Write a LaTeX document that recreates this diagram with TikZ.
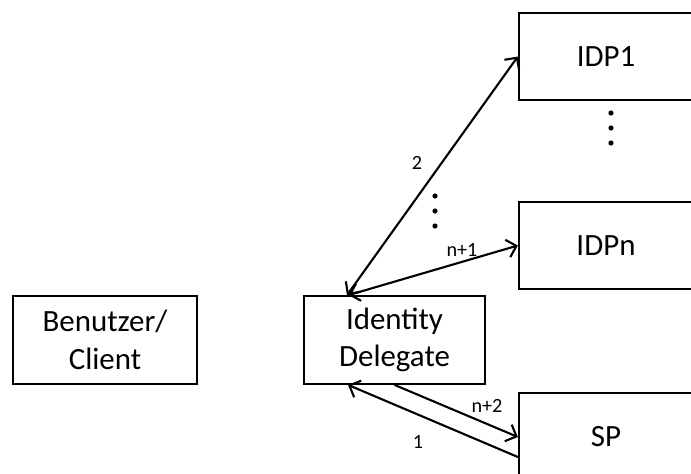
\documentclass[tikz,border=0pt]{standalone}
\usepackage{fontspec}
\setmainfont{Carlito}
\usetikzlibrary{arrows.meta,positioning}

\begin{document}
\begin{tikzpicture}[
    x=0.02cm,y=-0.02cm,
    box/.style={draw,line width=1.3pt,minimum height=1.75cm,align=center,font=\fontsize{17.6}{21.5}\selectfont},
    lbl/.style={font=\fontsize{11.5}{13}\selectfont,inner sep=1pt},
    arr/.style={-{Straight Barb[length=1.8mm,width=3.6mm]},line width=1.2pt},
    darr/.style={{Straight Barb[length=1.8mm,width=3.6mm]}-{Straight Barb[length=1.8mm,width=3.6mm]},line width=1.2pt}
  ]
    \clip (0,0) rectangle (691,474);
    \node[box,minimum width=3.68cm] (client) at (105,340) {Benutzer/\\Client};
    \node[box,minimum width=3.62cm] (idd) at (394.5,340) {Identity\\Delegate};
    \node[box,minimum width=3.48cm] (idp1) at (606,56.5) {IDP1};
    \node[box,minimum width=3.48cm] (idpn) at (606,245.5) {IDPn};
    \node[box,minimum width=3.48cm] (sp) at (606,437) {SP};
    \draw[darr] ([xshift=-0.95cm]idd.north) -- (idp1.west);
    \draw[darr] ([xshift=-0.92cm]idd.north) -- (idpn.west);
    \draw[arr] (idd.south) -- (sp.west);
    \draw[arr] ([yshift=-0.4cm]sp.west) -- ([xshift=-0.93cm]idd.south);
    \node[lbl] (l2) at (417,163) {2};
    \node[lbl] (ln1) at (462,250) {n+1};
    \node[lbl] (ln2) at (487,406) {n+2};
    \node[lbl] (l1) at (418,442) {1};
    \foreach \y in {113,128,143}
      \fill (611,\y) circle (2.6);
    \foreach \y in {196,211,226}
      \fill (435,\y) circle (2.6);
  \end{tikzpicture}
\end{document}
